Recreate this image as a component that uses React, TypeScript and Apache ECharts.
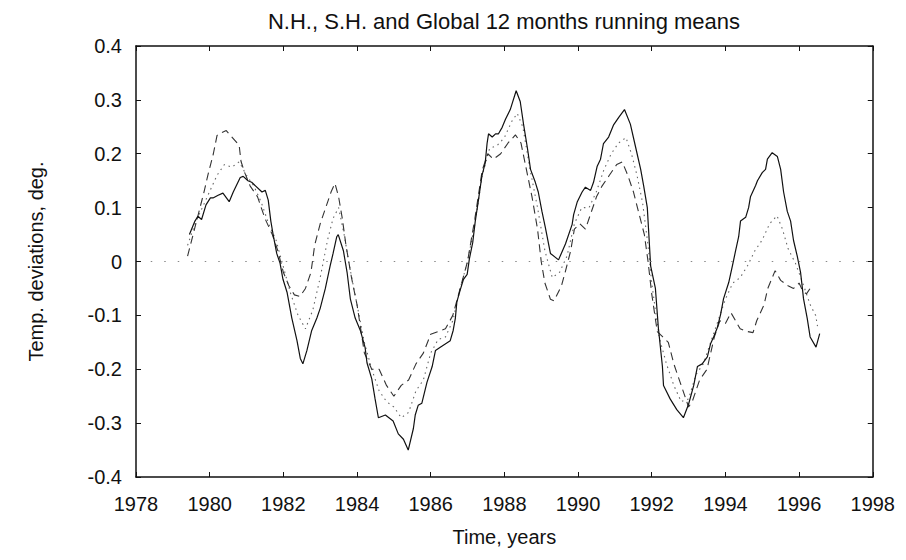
import React, { useEffect, useRef } from "react";
import * as echarts from "echarts";

// Solid line (N.H.)
const nhYears = [1979.45, 1979.6, 1979.68, 1979.78, 1979.9, 1980.02, 1980.09, 1980.23, 1980.36, 1980.53, 1980.64, 1980.83, 1980.91, 1981.04, 1981.14, 1981.42, 1981.51, 1981.59, 1981.66, 1981.72, 1981.82, 1981.91, 1981.99, 1982.1, 1982.23, 1982.37, 1982.46, 1982.53, 1982.64, 1982.77, 1982.91, 1983.0, 1983.14, 1983.27, 1983.35, 1983.45, 1983.49, 1983.63, 1983.73, 1983.82, 1983.95, 1984.09, 1984.22, 1984.27, 1984.4, 1984.49, 1984.58, 1984.77, 1984.98, 1985.12, 1985.26, 1985.39, 1985.53, 1985.58, 1985.66, 1985.76, 1985.9, 1986.04, 1986.13, 1986.26, 1986.53, 1986.61, 1986.67, 1986.71, 1986.8, 1986.89, 1986.99, 1987.05, 1987.14, 1987.21, 1987.29, 1987.39, 1987.48, 1987.53, 1987.57, 1987.67, 1987.76, 1987.84, 1987.94, 1988.03, 1988.16, 1988.32, 1988.43, 1988.52, 1988.62, 1988.71, 1988.84, 1988.92, 1989.02, 1989.11, 1989.25, 1989.47, 1989.66, 1989.84, 1989.88, 1989.98, 1990.11, 1990.2, 1990.34, 1990.42, 1990.52, 1990.61, 1990.69, 1990.83, 1990.96, 1991.1, 1991.26, 1991.42, 1991.56, 1991.7, 1991.78, 1991.88, 1991.91, 1991.97, 1992.1, 1992.18, 1992.29, 1992.32, 1992.5, 1992.68, 1992.86, 1993.0, 1993.14, 1993.24, 1993.37, 1993.51, 1993.6, 1993.68, 1993.78, 1993.87, 1993.95, 1994.09, 1994.19, 1994.28, 1994.36, 1994.41, 1994.55, 1994.63, 1994.68, 1994.82, 1994.87, 1995.0, 1995.09, 1995.14, 1995.27, 1995.41, 1995.5, 1995.58, 1995.68, 1995.77, 1995.85, 1995.95, 1996.04, 1996.09, 1996.12, 1996.22, 1996.3, 1996.46, 1996.56];
const nhValues = [0.05, 0.075, 0.084, 0.078, 0.105, 0.118, 0.118, 0.123, 0.127, 0.111, 0.129, 0.156, 0.158, 0.15, 0.147, 0.129, 0.132, 0.114, 0.075, 0.051, 0.015, -0.003, -0.033, -0.057, -0.105, -0.147, -0.18, -0.19, -0.165, -0.128, -0.105, -0.087, -0.05, -0.008, 0.015, 0.046, 0.05, 0.02, -0.02, -0.07, -0.105, -0.128, -0.16, -0.188, -0.218, -0.255, -0.29, -0.285, -0.296, -0.32, -0.33, -0.35, -0.31, -0.285, -0.267, -0.263, -0.224, -0.195, -0.165, -0.159, -0.147, -0.128, -0.105, -0.075, -0.053, -0.033, -0.024, 0.005, 0.035, 0.075, 0.111, 0.159, 0.183, 0.219, 0.237, 0.231, 0.237, 0.237, 0.249, 0.264, 0.282, 0.317, 0.297, 0.255, 0.213, 0.171, 0.147, 0.129, 0.093, 0.064, 0.015, 0.003, 0.033, 0.069, 0.087, 0.111, 0.129, 0.138, 0.132, 0.147, 0.177, 0.19, 0.219, 0.231, 0.253, 0.267, 0.282, 0.255, 0.213, 0.171, 0.141, 0.1, 0.064, -0.008, -0.05, -0.123, -0.195, -0.23, -0.255, -0.275, -0.29, -0.265, -0.23, -0.195, -0.19, -0.177, -0.152, -0.14, -0.123, -0.098, -0.069, -0.039, -0.008, 0.021, 0.046, 0.075, 0.082, 0.1, 0.12, 0.141, 0.15, 0.165, 0.171, 0.19, 0.202, 0.195, 0.171, 0.129, 0.093, 0.075, 0.039, 0.01, -0.02, -0.05, -0.069, -0.105, -0.14, -0.159, -0.134];

// Dashed line (S.H.)
const shYears = [1979.4, 1979.55, 1979.7, 1979.85, 1979.95, 1980.1, 1980.2, 1980.35, 1980.45, 1980.55, 1980.8, 1980.85, 1980.95, 1981.1, 1981.3, 1981.5, 1981.7, 1981.85, 1982.0, 1982.15, 1982.3, 1982.45, 1982.6, 1982.75, 1982.85, 1983.0, 1983.15, 1983.3, 1983.4, 1983.5, 1983.6, 1983.7, 1983.85, 1984.0, 1984.2, 1984.4, 1984.6, 1984.8, 1985.0, 1985.2, 1985.4, 1985.6, 1985.8, 1986.0, 1986.2, 1986.4, 1986.6, 1986.8, 1987.0, 1987.2, 1987.4, 1987.55, 1987.7, 1987.9, 1988.1, 1988.3, 1988.45, 1988.6, 1988.75, 1988.9, 1989.0, 1989.1, 1989.25, 1989.35, 1989.55, 1989.65, 1989.8, 1989.9, 1990.05, 1990.2, 1990.35, 1990.5, 1990.65, 1990.85, 1991.05, 1991.2, 1991.35, 1991.5, 1991.65, 1991.8, 1991.9, 1992.0, 1992.15, 1992.3, 1992.45, 1992.6, 1992.8, 1993.0, 1993.1, 1993.3, 1993.5, 1993.7, 1993.85, 1994.0, 1994.15, 1994.4, 1994.6, 1994.75, 1994.85, 1995.05, 1995.15, 1995.35, 1995.5, 1995.7, 1995.85, 1996.0, 1996.1, 1996.2, 1996.3, 1996.4];
const shValues = [0.01, 0.05, 0.09, 0.13, 0.16, 0.2, 0.234, 0.24, 0.243, 0.235, 0.216, 0.186, 0.165, 0.14, 0.12, 0.08, 0.05, 0.02, -0.02, -0.045, -0.062, -0.065, -0.05, -0.02, 0.03, 0.07, 0.1, 0.13, 0.145, 0.12, 0.08, 0.03, -0.03, -0.08, -0.17, -0.2, -0.2, -0.23, -0.25, -0.23, -0.22, -0.19, -0.17, -0.135, -0.13, -0.125, -0.1, -0.05, 0.0, 0.08, 0.17, 0.2, 0.19, 0.2, 0.22, 0.235, 0.22, 0.17, 0.12, 0.06, 0.0, -0.04, -0.07, -0.073, -0.045, -0.02, 0.02, 0.06, 0.07, 0.06, 0.09, 0.12, 0.14, 0.16, 0.18, 0.185, 0.16, 0.13, 0.09, 0.05, 0.0, -0.06, -0.13, -0.14, -0.15, -0.19, -0.23, -0.27, -0.26, -0.22, -0.2, -0.14, -0.11, -0.115, -0.095, -0.125, -0.13, -0.132, -0.11, -0.08, -0.05, -0.017, -0.035, -0.045, -0.05, -0.04, -0.055, -0.06, -0.05, -0.045];

// Dotted line (Global)
const glYears = [1979.4, 1979.6, 1979.8, 1980.0, 1980.2, 1980.4, 1980.6, 1980.8, 1981.0, 1981.2, 1981.4, 1981.6, 1981.8, 1982.0, 1982.2, 1982.4, 1982.6, 1982.8, 1983.0, 1983.2, 1983.35, 1983.5, 1983.65, 1983.8, 1984.0, 1984.2, 1984.4, 1984.6, 1984.8, 1985.0, 1985.2, 1985.4, 1985.6, 1985.8, 1986.0, 1986.2, 1986.4, 1986.6, 1986.8, 1987.0, 1987.2, 1987.4, 1987.6, 1987.8, 1988.0, 1988.2, 1988.35, 1988.5, 1988.7, 1988.9, 1989.1, 1989.3, 1989.5, 1989.7, 1989.9, 1990.1, 1990.3, 1990.5, 1990.7, 1990.9, 1991.1, 1991.3, 1991.45, 1991.6, 1991.75, 1991.9, 1992.0, 1992.2, 1992.4, 1992.6, 1992.8, 1993.0, 1993.2, 1993.4, 1993.6, 1993.8, 1994.0, 1994.2, 1994.4, 1994.6, 1994.8, 1995.0, 1995.2, 1995.4, 1995.55, 1995.7, 1995.9, 1996.1, 1996.3, 1996.45, 1996.5];
const glValues = [0.03, 0.07, 0.1, 0.13, 0.16, 0.18, 0.175, 0.185, 0.16, 0.14, 0.11, 0.07, 0.04, -0.01, -0.06, -0.1, -0.125, -0.09, -0.03, 0.04, 0.08, 0.1, 0.05, -0.01, -0.08, -0.15, -0.2, -0.24, -0.26, -0.27, -0.29, -0.28, -0.24, -0.22, -0.17, -0.145, -0.14, -0.11, -0.05, 0.0, 0.07, 0.16, 0.21, 0.215, 0.23, 0.26, 0.275, 0.25, 0.17, 0.1, 0.02, -0.03, -0.02, 0.01, 0.07, 0.1, 0.1, 0.13, 0.17, 0.2, 0.22, 0.23, 0.2, 0.16, 0.11, 0.03, -0.04, -0.14, -0.19, -0.23, -0.26, -0.255, -0.21, -0.19, -0.15, -0.11, -0.07, -0.04, -0.03, -0.008, 0.02, 0.04, 0.07, 0.085, 0.06, 0.024, -0.003, -0.04, -0.08, -0.1, -0.12];

const xTicks = [1978, 1980, 1982, 1984, 1986, 1988, 1990, 1992, 1994, 1996, 1998];
const yTicks = [-0.4, -0.3, -0.2, -0.1, 0, 0.1, 0.2, 0.3, 0.4];

const pairs = (xs: number[], ys: number[]) => xs.map((x, i) => [x, ys[i]]);

const FONT = "'Liberation Sans', Arial, sans-serif";

export default function App() {
  const ref = useRef<HTMLDivElement>(null);
  useEffect(() => {
    if (!ref.current) return;
    const chart = echarts.init(ref.current, undefined, { renderer: "svg" });
    const axisCommon = {
      axisLine: { show: true, onZero: false, lineStyle: { color: "#111", width: 1.5 } },
      axisTick: { show: true, inside: true, length: 5, lineStyle: { color: "#111", width: 1 } },
      splitLine: { show: false },
    };
    chart.setOption({
      animation: false,
      backgroundColor: "#fff",
      title: {
        text: "N.H., S.H. and Global 12 months running means",
        left: 491,
        textAlign: "center",
        top: -3,
        textStyle: { fontFamily: FONT, fontSize: 22, fontWeight: "normal", color: "#111" },
      },
      grid: { left: 128, right: 25, top: 38, bottom: 61, containLabel: false },
      xAxis: [
        {
          type: "value",
          min: xTicks[0],
          max: xTicks[xTicks.length - 1],
          interval: 2,
          position: "bottom",
          name: "Time, years",
          nameLocation: "middle",
          nameGap: 50,
          nameTextStyle: { fontFamily: FONT, fontSize: 20, color: "#111" },
          axisLabel: {
            fontFamily: FONT,
            fontSize: 20,
            color: "#111",
            margin: 17,
            formatter: (v: number) => String(v),
          },
          ...axisCommon,
        },
        {
          type: "value",
          min: xTicks[0],
          max: xTicks[xTicks.length - 1],
          interval: 2,
          position: "top",
          axisLabel: { show: false },
          ...axisCommon,
        },
      ],
      yAxis: [
        {
          type: "value",
          min: yTicks[0],
          max: yTicks[yTicks.length - 1],
          interval: 0.1,
          position: "left",
          name: "Temp. deviations, deg.",
          nameLocation: "middle",
          nameGap: 90,
          nameRotate: 90,
          nameTextStyle: { fontFamily: FONT, fontSize: 20, color: "#111" },
          axisLabel: {
            fontFamily: FONT,
            fontSize: 20,
            color: "#111",
            margin: 14,
            formatter: (v: number) => (Math.abs(v) < 1e-9 ? "0" : String(Math.round(v * 10) / 10)),
          },
          ...axisCommon,
        },
        {
          type: "value",
          min: yTicks[0],
          max: yTicks[yTicks.length - 1],
          interval: 0.1,
          position: "right",
          axisLabel: { show: false },
          ...axisCommon,
        },
      ],
      series: [
        {
          name: "Global",
          type: "line",
          data: pairs(glYears, glValues),
          showSymbol: false,
          symbol: "none",
          lineStyle: { color: "#666", width: 1.1, type: [1.5, 4] },
          markLine: {
            silent: true,
            symbol: "none",
            label: { show: false },
            lineStyle: { color: "#888", width: 1, type: [1.5, 12] },
            data: [[{ coord: [1978.4, 0] }, { coord: [1998, 0] }]],
          },
        },
        {
          name: "S.H.",
          type: "line",
          data: pairs(shYears, shValues),
          showSymbol: false,
          symbol: "none",
          lineStyle: { color: "#333", width: 1.1, type: [8, 5] },
        },
        {
          name: "N.H.",
          type: "line",
          data: pairs(nhYears, nhValues),
          showSymbol: false,
          symbol: "none",
          lineStyle: { color: "#111", width: 1.2, type: "solid" },
        },
      ],
    });
    return () => chart.dispose();
  }, []);
  return <div ref={ref} style={{ width: 890, height: 544 }} />;
}
